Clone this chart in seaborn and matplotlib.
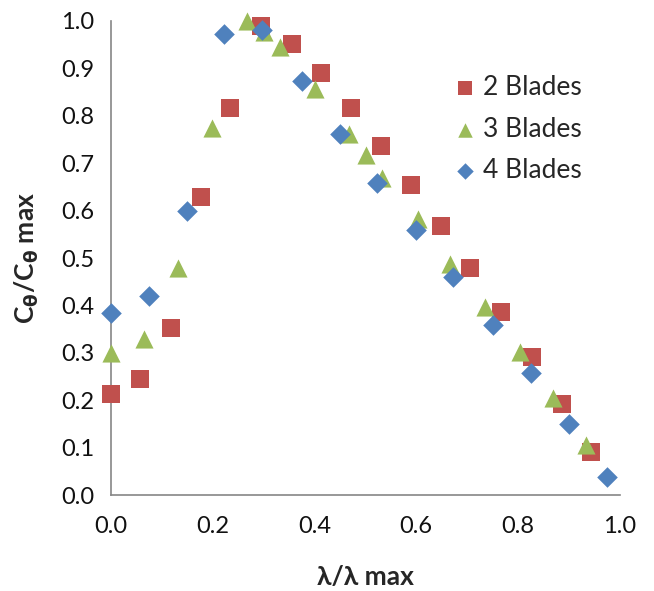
import matplotlib
matplotlib.use("Agg")
import matplotlib.pyplot as plt
import seaborn as sns
import pandas as pd

# Normalised tip speed ratio (x) and normalised torque coefficient (y) per rotor
x_2 = [0.0, 0.058, 0.118, 0.177, 0.234, 0.295, 0.356, 0.413, 0.472, 0.531,
       0.590, 0.649, 0.706, 0.767, 0.828, 0.887, 0.944]
y_2 = [0.213, 0.245, 0.352, 0.629, 0.816, 0.989, 0.951, 0.890, 0.816, 0.736,
       0.654, 0.568, 0.479, 0.386, 0.291, 0.192, 0.091]

x_3 = [0.0, 0.065, 0.133, 0.199, 0.267, 0.300, 0.333, 0.401, 0.467, 0.502,
       0.533, 0.603, 0.667, 0.734, 0.803, 0.868, 0.934]
y_3 = [0.300, 0.330, 0.478, 0.775, 1.000, 0.977, 0.945, 0.856, 0.762, 0.717,
       0.668, 0.582, 0.488, 0.397, 0.302, 0.205, 0.106]

x_4 = [0.0, 0.075, 0.149, 0.223, 0.298, 0.375, 0.450, 0.523, 0.599, 0.673,
       0.750, 0.825, 0.899, 0.974]
y_4 = [0.383, 0.420, 0.599, 0.972, 0.980, 0.873, 0.762, 0.658, 0.559, 0.459,
       0.359, 0.258, 0.150, 0.037]

series_names = ["2 Blades", "3 Blades", "4 Blades"]
colors = ["#C0504D", "#9BBB59", "#4F81BD"]
markers = ["s", "^", "D"]
marker_sizes = [150, 170, 110]

x_ticks = [0.0, 0.2, 0.4, 0.6, 0.8, 1.0]
y_ticks = [0.0, 0.1, 0.2, 0.3, 0.4, 0.5, 0.6, 0.7, 0.8, 0.9, 1.0]

df = pd.concat([
    pd.DataFrame({"x": x_2, "y": y_2, "series": series_names[0]}),
    pd.DataFrame({"x": x_3, "y": y_3, "series": series_names[1]}),
    pd.DataFrame({"x": x_4, "y": y_4, "series": series_names[2]}),
], ignore_index=True)

sns.set_style("white")
plt.rcParams["font.family"] = ["Lato", "DejaVu Sans"]
plt.rcParams["mathtext.fontset"] = "dejavusans"

fig = plt.figure(figsize=(6.54, 5.91), dpi=100)
ax = fig.add_axes([0.1693, 0.1624, 0.7787, 0.8021])

for name, col, mk, ms in zip(series_names, colors, markers, marker_sizes):
    sub = df[df["series"] == name]
    sns.scatterplot(data=sub, x="x", y="y", ax=ax, color=col, marker=mk,
                    s=ms, linewidth=0, label=name, clip_on=False, zorder=3)

ax.set_xlim(0, 1)
ax.set_ylim(0, 1)
ax.set_xticks(x_ticks)
ax.set_yticks(y_ticks)
ax.set_xticklabels([f"{v:.1f}" for v in x_ticks])
ax.set_yticklabels([f"{v:.1f}" for v in y_ticks])

gray = "#868686"
for side in ["top", "right"]:
    ax.spines[side].set_visible(False)
for side in ["left", "bottom"]:
    ax.spines[side].set_color(gray)
    ax.spines[side].set_linewidth(1.2)
ax.tick_params(axis="both", direction="out", length=7, width=1.2, color=gray,
               labelsize=17, labelcolor="#111111", pad=5)
ax.tick_params(axis="x", pad=8)

ax.set_xlabel("λ/λ max", fontsize=19, fontweight="bold", labelpad=20)
ax.set_ylabel(r"C$_{\mathbf{\theta}}$/C$_{\mathbf{\theta}}$ max", fontsize=19,
              fontweight="bold", labelpad=14)

leg = ax.legend(loc="upper left", bbox_to_anchor=(0.65, 0.908), frameon=False,
                fontsize=19, handletextpad=0.15, handlelength=1.0,
                labelspacing=0.62, borderaxespad=0, markerscale=0.8)

fig.savefig("out.png", dpi=100)
